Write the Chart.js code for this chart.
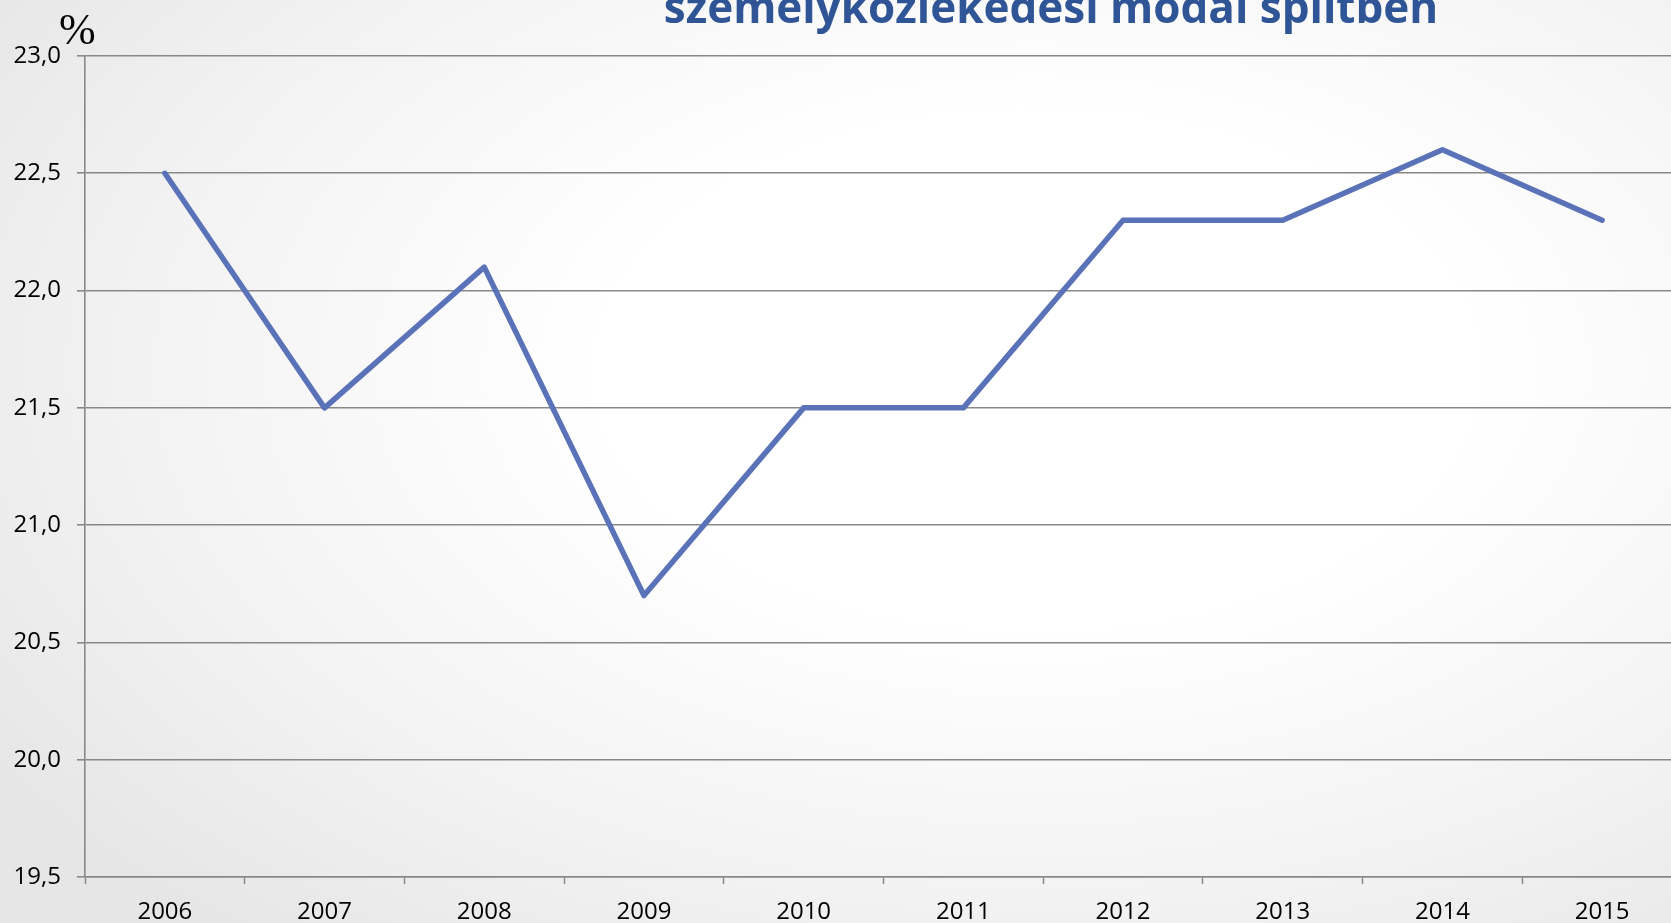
<!DOCTYPE html>
<html>
<head>
<meta charset="utf-8">
<script src="https://cdn.jsdelivr.net/npm/chart.js@4/dist/chart.umd.min.js"></script>
<style>
  html, body {
    margin: 0;
    padding: 0;
    width: 1671px;
    height: 923px;
    overflow: hidden;
    background: radial-gradient(ellipse 75% 80% at 62% 40%, #ffffff 35%, #f3f3f3 70%, #e6e6e6 100%);
  }
  #chart { display: block; }
</style>
</head>
<body>
<canvas id="chart" width="1682" height="923"></canvas>
<script>
// Data
const years = ['2006', '2007', '2008', '2009', '2010', '2011', '2012', '2013', '2014', '2015'];
const share = [22.5, 21.5, 22.1, 20.7, 21.5, 21.5, 22.3, 22.3, 22.6, 22.3];
const yTickValues = [19.5, 20.0, 20.5, 21.0, 21.5, 22.0, 22.5, 23.0];
const titleText = 'személyközlekedési modal splitben';
const unitText = '%';

const gridGray = '#888888';

// Title (cut off at the top) and unit label
const headerPlugin = {
  id: 'header',
  afterDraw(chart) {
    const ctx = chart.ctx;
    ctx.save();
    ctx.fillStyle = '#2f5597';
    ctx.font = 'bold 44px "Open Sans"';
    ctx.textAlign = 'center';
    ctx.textBaseline = 'alphabetic';
    ctx.fillText(titleText, 1051, 23);

    ctx.fillStyle = '#000000';
    ctx.font = '44px "Liberation Serif"';
    ctx.textAlign = 'left';
    ctx.fillText(unitText, 59, 44);
    ctx.restore();
  }
};

const ctx = document.getElementById('chart').getContext('2d');
new Chart(ctx, {
  type: 'line',
  data: {
    labels: years,
    datasets: [{
      data: share,
      borderColor: '#5a72b8',
      borderWidth: 5.5,
      pointRadius: 0,
      tension: 0,
      borderCapStyle: 'round',
      borderJoinStyle: 'round'
    }]
  },
  options: {
    responsive: false,
    animation: false,
    devicePixelRatio: 1,
    layout: { padding: { top: 56, right: 0, bottom: 0, left: 0 } },
    plugins: {
      legend: { display: false },
      tooltip: { enabled: false }
    },
    scales: {
      x: {
        offset: true,
        grid: {
          offset: true,
          drawOnChartArea: false,
          drawTicks: true,
          tickLength: 7,
          tickColor: gridGray,
          tickWidth: 1.5
        },
        border: { display: true, color: gridGray, width: 1.6 },
        ticks: {
          color: '#000000',
          font: { family: '"Open Sans"', size: 24 },
          padding: 14,
          maxRotation: 0,
          autoSkip: false
        },
        afterFit(scale) { scale.height = 46; }
      },
      y: {
        min: 19.5,
        max: 23,
        afterBuildTicks(scale) {
          scale.ticks = yTickValues.map(v => ({ value: v }));
        },
        grid: {
          color: gridGray,
          lineWidth: 1.6,
          drawTicks: true,
          tickLength: 8,
          tickColor: gridGray
        },
        border: { display: true, color: gridGray, width: 1.6 },
        ticks: {
          color: '#000000',
          font: { family: '"Open Sans"', size: 24 },
          padding: 16,
          callback: v => v.toFixed(1).replace('.', ',')
        },
        afterFit(scale) { scale.width = 85; }
      }
    }
  },
  plugins: [headerPlugin]
});
</script>
</body>
</html>
